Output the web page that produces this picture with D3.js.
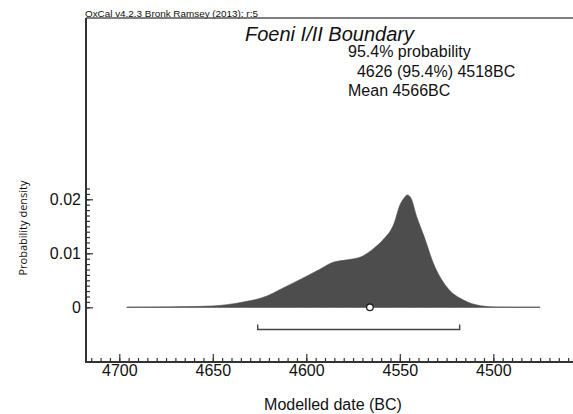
<!DOCTYPE html>
<html>
<head>
<meta charset="utf-8">
<script src="https://cdn.jsdelivr.net/npm/d3@7"></script>
<style>
  html, body { margin: 0; padding: 0; background: #fff; }
  svg { display: block; }
  text { font-family: "Liberation Sans", Arial, sans-serif; fill: #111; }
</style>
</head>
<body>
<svg id="chart" width="573" height="414"></svg>
<script>
// ---- Data ----
const years   = [4696, 4680, 4667, 4650, 4635, 4621, 4614, 4603, 4593, 4586, 4578, 4571, 4564, 4559, 4553, 4550, 4548, 4546, 4544, 4541, 4537, 4532, 4525, 4516, 4507, 4498, 4490, 4475];
const density = [0, 0.00004, 0.0001, 0.00025, 0.0009, 0.0021, 0.0033, 0.0052, 0.0070, 0.0083, 0.0088, 0.0093, 0.0109, 0.0125, 0.0156, 0.0189, 0.0201, 0.0208, 0.0202, 0.0168, 0.0131, 0.0081, 0.0038, 0.00135, 0.0003, 0.00003, 0, 0];
const xTickValues = [4700, 4650, 4600, 4550, 4500];
const yTickValues = [0, 0.01, 0.02];
const yTickLabels = ["0", "0.01", "0.02"];
const range95 = [4626, 4518];
const meanYear = 4566;
const headerText = "OxCal v4.2.3 Bronk Ramsey (2013); r:5";
const titleText = "Foeni I/II Boundary";
const infoLines = ["95.4% probability", "  4626 (95.4%) 4518BC", "Mean 4566BC"];

(function () {
// ---- Layout ----
const svg = d3.select("#chart");
const pLeft = 86, pRight = 573, pTop = 18, pBottom = 362;

const x = d3.scaleLinear().domain([4717.8, 4457.4]).range([pLeft, pRight]);
const y = d3.scaleLinear().domain([0, 0.02]).range([307.3, 199.3]);

const axisColor = "#333";

// Header
svg.append("text").attr("x", 85).attr("y", 16.5)
  .attr("font-size", 9.9).attr("fill", "#222").text(headerText);

// Frame top line
svg.append("line").attr("x1", pLeft).attr("x2", pRight).attr("y1", pTop).attr("y2", pTop)
  .attr("stroke", "#555").attr("stroke-width", 1.5);

// Density area
const pts = years.map((yr, i) => ({ yr, d: density[i] }));
svg.append("line")
  .attr("x1", x(years[0])).attr("x2", x(years[years.length - 1]))
  .attr("y1", y(0)).attr("y2", y(0))
  .attr("stroke", "#bbb").attr("stroke-width", 1.5);
svg.append("path").datum(pts)
  .attr("d", d3.area().x(p => x(p.yr)).y0(y(0)).y1(p => y(p.d)).curve(d3.curveMonotoneX))
  .attr("fill", "#4d4d4d").attr("stroke", "#4d4d4d").attr("stroke-width", 0.6);

// Mean marker
svg.append("circle").attr("cx", x(meanYear)).attr("cy", y(0)).attr("r", 3.3)
  .attr("fill", "#fff").attr("stroke", "#222").attr("stroke-width", 1.3);

// 95.4% range bracket
const by = 329.5;
svg.append("path")
  .attr("d", `M${x(range95[0])},${by - 5}V${by}H${x(range95[1])}V${by - 5}`)
  .attr("fill", "none").attr("stroke", "#444").attr("stroke-width", 1.4);

// X axis
const xMinor = d3.range(4715, 4455, -5);
const gxMinor = svg.append("g").attr("transform", `translate(0,${pBottom})`)
  .call(d3.axisBottom(x).tickValues(xMinor).tickSize(-4).tickFormat(""));
const gx = svg.append("g").attr("transform", `translate(0,${pBottom})`)
  .call(d3.axisBottom(x).tickValues(xTickValues).tickSize(-8).tickPadding(3).tickFormat(d3.format("d")));
[gxMinor, gx].forEach(g => {
  g.select(".domain").remove();
  g.selectAll("line").attr("stroke", axisColor).attr("stroke-width", 1.2);
});
gx.selectAll("text").attr("font-size", 16).attr("fill", "#111")
  .style("font-family", "'Liberation Sans', Arial, sans-serif");
svg.append("line").attr("x1", pLeft).attr("x2", pRight).attr("y1", pBottom).attr("y2", pBottom)
  .attr("stroke", axisColor).attr("stroke-width", 2);

// Y axis
const yMinor = d3.range(0, 0.0221, 0.001);
const gyMinor = svg.append("g").attr("transform", `translate(${pLeft},0)`)
  .call(d3.axisLeft(y).tickValues(yMinor).tickSize(-4).tickFormat(""));
const gy = svg.append("g").attr("transform", `translate(${pLeft},0)`)
  .call(d3.axisLeft(y).tickValues(yTickValues).tickSize(-7).tickPadding(5)
    .tickFormat((d, i) => yTickLabels[i]));
[gyMinor, gy].forEach(g => {
  g.select(".domain").remove();
  g.selectAll("line").attr("stroke", axisColor).attr("stroke-width", 1.2);
});
gy.selectAll("text").attr("font-size", 16).attr("fill", "#111")
  .style("font-family", "'Liberation Sans', Arial, sans-serif");
svg.append("line").attr("x1", pLeft).attr("x2", pLeft).attr("y1", pTop).attr("y2", pBottom + 1)
  .attr("stroke", axisColor).attr("stroke-width", 2);

// Axis titles
svg.append("text").attr("x", 333).attr("y", 410).attr("text-anchor", "middle")
  .attr("font-size", 16).text("Modelled date (BC)");
svg.append("text").attr("transform", "translate(27,228) rotate(-90)")
  .attr("text-anchor", "middle").attr("font-size", 11)
  .style("font-family", "'Open Sans', 'Noto Sans', sans-serif")
  .text("Probability density");

// Title and info
svg.append("text").attr("x", 245).attr("y", 41).attr("font-size", 20)
  .attr("font-style", "italic").text(titleText);
const infoY = [57, 77, 96];
infoLines.forEach((t, i) => {
  svg.append("text").attr("x", 348).attr("y", infoY[i]).attr("font-size", 16)
    .attr("xml:space", "preserve").style("white-space", "pre").text(t);
});
})();
</script>
</body>
</html>
